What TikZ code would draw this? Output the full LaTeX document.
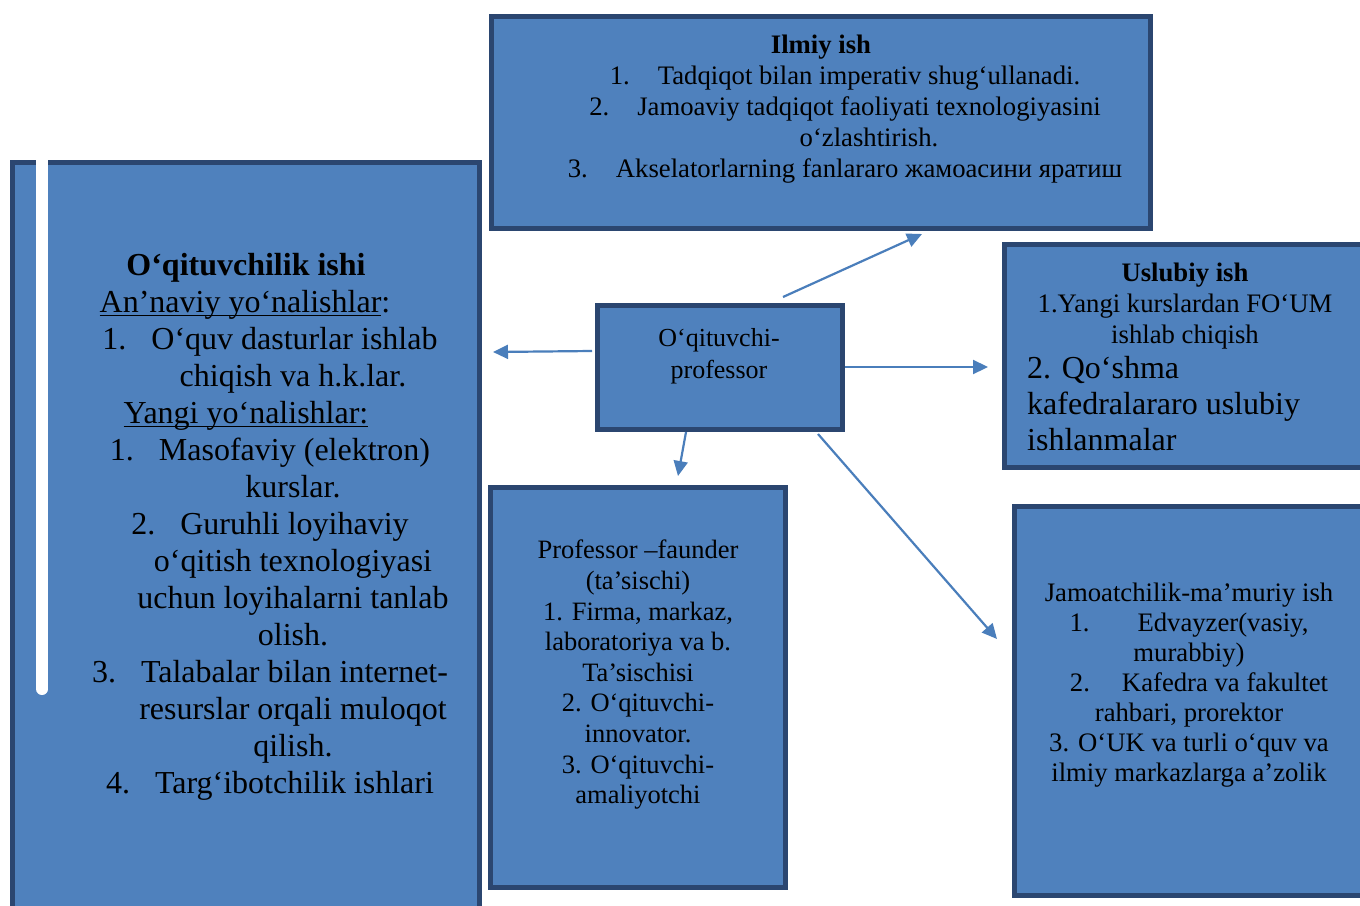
\documentclass[tikz,border=0pt]{standalone}
\usepackage{fontspec}
\setmainfont{Liberation Serif}
\usetikzlibrary{arrows.meta}
\definecolor{boxfill}{HTML}{4F81BD}
\definecolor{boxline}{HTML}{2B4670}
\definecolor{arrowc}{HTML}{4A7EBB}
\newsavebox\myulbox
\newcommand\myul[1]{\sbox\myulbox{#1}\rlap{\rule[-4pt]{\wd\myulbox}{1.4pt}}\usebox\myulbox}
\begin{document}
\begin{tikzpicture}[x=1pt,y=-1pt,
  box/.style={draw=boxline,fill=boxfill,line width=5pt,rectangle,inner sep=0pt},
  txt/.style={inner sep=0pt,text=black,align=center},
  conn/.style={draw=arrowc,line width=2.2pt,-{Triangle[length=15pt,width=14pt]}}]
\useasboundingbox (0,0) rectangle (1360,905);
\clip (0,0) rectangle (1360,905);
\fill[white] (0,0) rectangle (1360,905);
% boxes
\node[box,minimum width=467pt,minimum height=765pt] (teach) at (246,545) {};
\fill[white] (36,155) rectangle (48,689);
\fill[white] (42,689) circle (6);
\node[box,minimum width=659pt,minimum height=212pt] (ilmiy) at (821,122.5) {};
\node[box,minimum width=245pt,minimum height=124pt] (prof) at (720,367.5) {};
\node[box,minimum width=373pt,minimum height=223pt] (uslub) at (1191,356) {};
\node[box,minimum width=295pt,minimum height=400pt] (faund) at (638,687.5) {};
\node[box,minimum width=363pt,minimum height=389pt] (jamoa) at (1196,701) {};
% texts
\node[txt,anchor=north,font=\fontsize{32}{37}\selectfont] (teachtxt) at (270,253) {%
\textbf{O‘qituvchilik ishi}\hspace*{48pt}\\
\hspace*{-50pt}\myul{An’naviy yo‘nalishlar}:\\
1.\hspace{25pt}O‘quv dasturlar ishlab\\
\hspace*{46pt}chiqish va h.k.lar.\\
\hspace*{-48pt}\myul{Yangi yo‘nalishlar:}\\
1.\hspace{25pt}Masofaviy (elektron)\\
\hspace*{46pt}kurslar.\\
2.\hspace{25pt}Guruhli loyihaviy\\
\hspace*{46pt}o‘qitish texnologiyasi\\
\hspace*{46pt}uchun loyihalarni tanlab\\
\hspace*{46pt}olish.\\
3.\hspace{25pt}Talabalar bilan internet-\\
\hspace*{46pt}resurslar orqali muloqot\\
\hspace*{46pt}qilish.\\
4.\hspace{25pt}Targ‘ibotchilik ishlari};
\node[txt,anchor=north,font=\fontsize{26.7}{31}\selectfont] (ilmiytxt) at (845,35) {%
\textbf{Ilmiy ish}\hspace*{48pt}\\
1.\hspace{28pt}Tadqiqot bilan imperativ shug‘ullanadi.\\
2.\hspace{28pt}Jamoaviy tadqiqot faoliyati texnologiyasini\\
\hspace*{48pt}o‘zlashtirish.\\
3.\hspace{28pt}Akselatorlarning fanlararo жамоасини яратиш};
\node[txt,anchor=north,font=\fontsize{26}{32}\selectfont] (proftxt) at (719,328) {O‘qituvchi-\\professor};
\node[txt,anchor=north,font=\fontsize{26.7}{31}\selectfont] (uslubtxt) at (1185,263) {%
\textbf{Uslubiy ish}\\
1.Yangi kurslardan FO‘UM\\
ishlab chiqish};
\node[txt,anchor=north west,align=left,font=\fontsize{32}{36}\selectfont] (uslubtxtb) at (1027,356) {%
2. Qo‘shma\\
kafedralararo uslubiy\\
ishlanmalar};
\node[txt,anchor=north,font=\fontsize{26.5}{30.6}\selectfont] (faundtxt) at (638,540) {%
Professor –faunder\\
(ta’sischi)\\
1. Firma, markaz,\\
laboratoriya va b.\\
Ta’sischisi\\
2. O‘qituvchi-\\
innovator.\\
3. O‘qituvchi-\\
amaliyotchi};
\node[txt,anchor=north,font=\fontsize{26.7}{30}\selectfont] (jamoatxt) at (1189,583) {%
Jamoatchilik-ma’muriy ish\\
1.\hspace{48pt}Edvayzer(vasiy,\\
murabbiy)\\
\hspace*{20pt}2.\hspace{32pt}Kafedra va fakultet\\
rahbari, prorektor\\
3. O‘UK va turli o‘quv va\\
ilmiy markazlarga a’zolik};
% connector ends
\coordinate (s1) at (592,351); \coordinate (e1) at (493,352);
\coordinate (s2) at (783,297); \coordinate (e2) at (922,234);
\coordinate (s3) at (686,432); \coordinate (e3) at (678,476);
\coordinate (s4) at (845,367); \coordinate (e4) at (988,367);
\coordinate (s5) at (818,434); \coordinate (e5) at (997,639);
\draw[conn] (s1) -- (e1);
\draw[conn] (s2) -- (e2);
\draw[conn] (s3) -- (e3);
\draw[conn] (s4) -- (e4);
\draw[conn] (s5) -- (e5);
\end{tikzpicture}
\end{document}
